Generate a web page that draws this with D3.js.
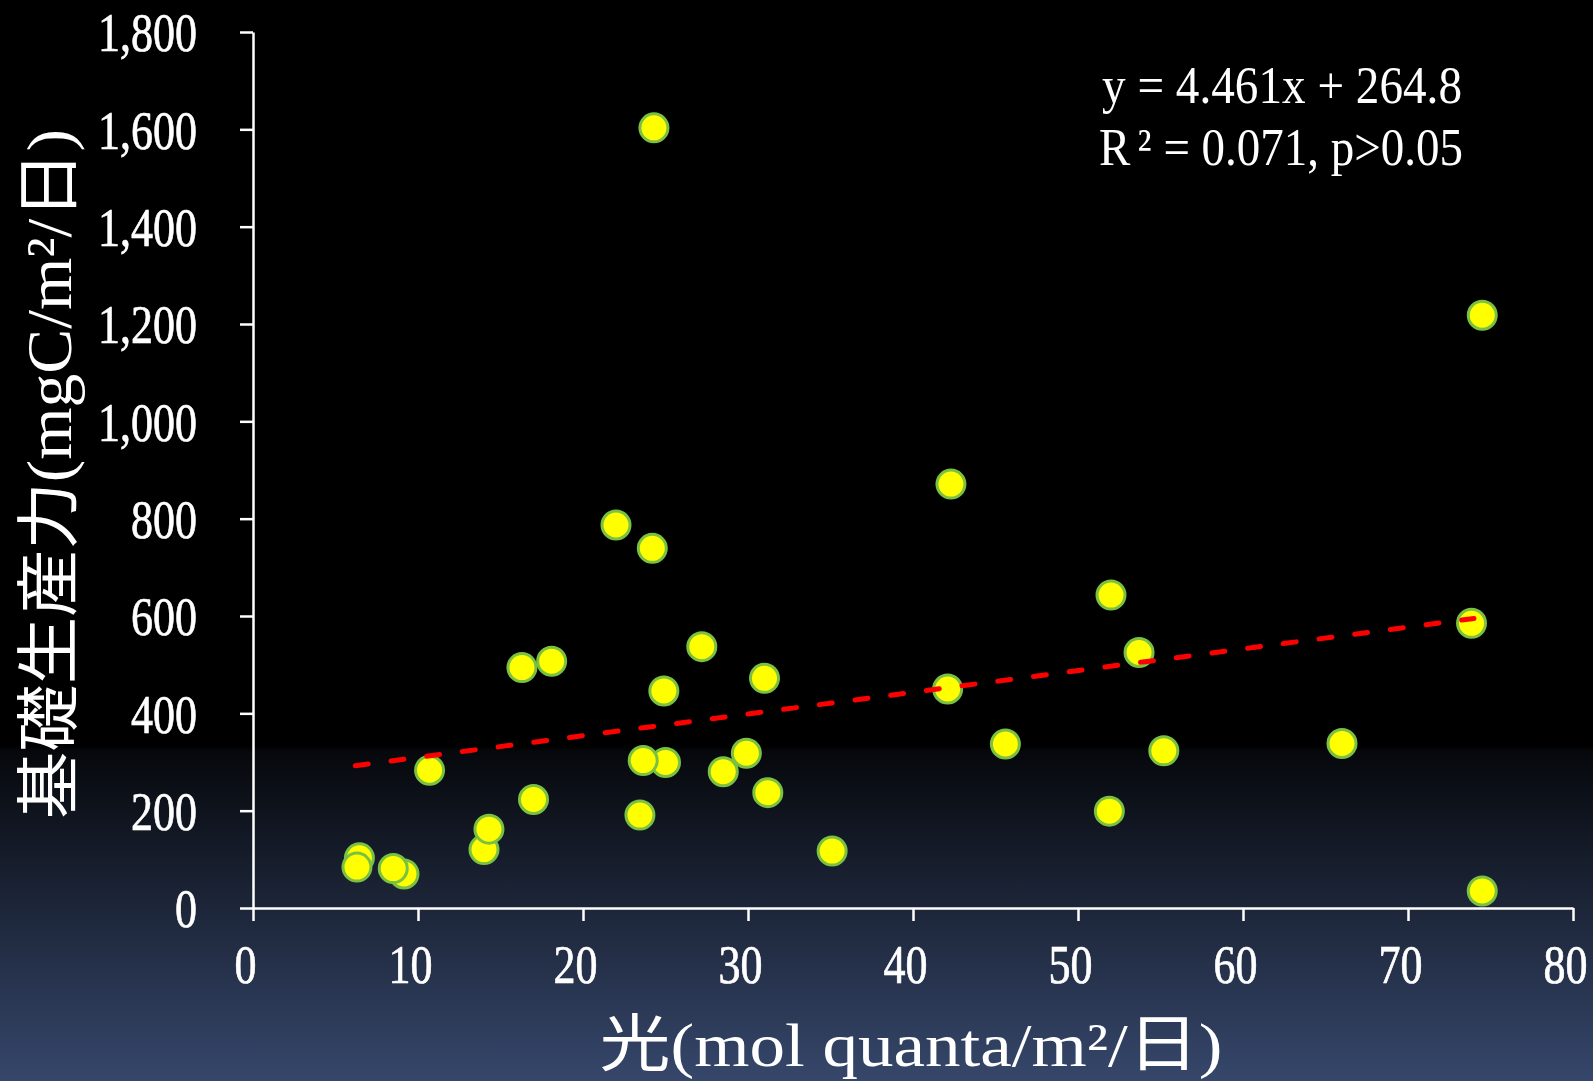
<!DOCTYPE html>
<html>
<head>
<meta charset="utf-8">
<script src="https://cdn.jsdelivr.net/npm/d3@7"></script>
<style>
  html, body { margin: 0; padding: 0; background: #000; }
  svg { display: block; }
</style>
</head>
<body>
<div id="chart"></div>
<script>
// light (mol quanta/m2/day) vs basal production (mgC/m2/day)
const lightX = [24.3, 74.5, 42.3, 22.0, 24.2, 52.0, 73.85, 53.7, 27.2, 18.1, 16.3, 31.0, 24.9, 42.1,
  45.6, 66.0, 55.2, 28.5, 29.9, 25.0, 23.65, 10.7, 31.2, 17.0, 23.45, 51.9, 14.0, 14.3, 35.1,
  6.45, 6.3, 9.15, 8.5, 74.5];
const production = [1603, 1218, 871, 787, 739, 643, 585, 525, 537, 507, 494, 472, 446, 450,
  337, 338, 323, 280, 318, 299, 303, 283, 237, 223, 191, 199, 120, 162, 117,
  103, 84, 70, 81, 35];

const xTicks = [0, 10, 20, 30, 40, 50, 60, 70, 80];
const yTicks = [0, 200, 400, 600, 800, 1000, 1200, 1400, 1600, 1800];

// regression from the chart
const slope = 4.461;
const intercept = 264.8;
const trendRange = [6.2, 74.0];
const equationLines = ["y = 4.461x + 264.8", "R", "²", " = 0.071, p>0.05"];

const xTitle = "光(mol quanta/m²/日)";
const yTitle = "基礎生産力(mgC/m²/日)";

const W = 1593, H = 1081;
const plot = { left: 253, right: 1573, top: 32, bottom: 908 };
const numFont = "'Liberation Serif', 'Times New Roman', serif";
const titleFont = "'Liberation Serif', 'Noto Sans CJK JP', serif";
const squeeze = 0.8;

const svg = d3.select("#chart").append("svg")
  .attr("width", W)
  .attr("height", H);

// background gradient
const defs = svg.append("defs");
const grad = defs.append("linearGradient")
  .attr("id", "bg")
  .attr("x1", 0).attr("y1", 0).attr("x2", 0).attr("y2", 1);
grad.append("stop").attr("offset", "0%").attr("stop-color", "#000");
grad.append("stop").attr("offset", "69%").attr("stop-color", "#000");
grad.append("stop").attr("offset", "69.5%").attr("stop-color", "#06080c");
grad.append("stop").attr("offset", "100%").attr("stop-color", "#36476b");

svg.append("rect")
  .attr("width", W)
  .attr("height", H)
  .attr("fill", "url(#bg)");

const x = d3.scaleLinear().domain([0, 80]).range([plot.left, plot.right]);
const y = d3.scaleLinear().domain([0, 1800]).range([plot.bottom, plot.top]);

// x axis
const xAxis = svg.append("g")
  .attr("transform", `translate(0,${plot.bottom})`)
  .call(d3.axisBottom(x).tickValues(xTicks).tickSize(13).tickSizeOuter(0).tickFormat(d3.format("d")));

// y axis
const yAxis = svg.append("g")
  .attr("transform", `translate(${plot.left},0)`)
  .call(d3.axisLeft(y).tickValues(yTicks).tickSize(13).tickSizeOuter(0).tickFormat(d3.format(",")));

[xAxis, yAxis].forEach(a => {
  a.select(".domain").attr("stroke", "#fff").attr("stroke-width", 2.5);
  a.selectAll(".tick line").attr("stroke", "#fff").attr("stroke-width", 2.5);
  a.selectAll(".tick text")
    .attr("fill", "#fff")
    .attr("stroke", "#fff")
    .attr("stroke-width", 0.7)
    .attr("font-family", numFont)
    .attr("font-size", 55);
});

xAxis.selectAll(".tick text")
  .attr("y", 75)
  .attr("dy", 0)
  .attr("x", -8 / squeeze)
  .attr("transform", `scale(${squeeze},1)`);

yAxis.selectAll(".tick text")
  .attr("x", -56 / squeeze)
  .attr("dy", "0.34em")
  .attr("transform", `scale(${squeeze},1)`);

// points
svg.append("g")
  .selectAll("circle")
  .data(lightX.map((v, i) => ({ x: v, y: production[i] })))
  .join("circle")
  .attr("cx", d => x(d.x))
  .attr("cy", d => y(d.y))
  .attr("r", 14)
  .attr("fill", "#ffff00")
  .attr("stroke", "#7ac143")
  .attr("stroke-width", 3);

// trend line
const line = d3.line()
  .x(d => x(d))
  .y(d => y(slope * d + intercept));

svg.append("path")
  .datum(trendRange)
  .attr("d", line)
  .attr("fill", "none")
  .attr("stroke", "#ff0000")
  .attr("stroke-width", 5)
  .attr("stroke-linecap", "round")
  .attr("stroke-dasharray", "13 23");

// regression text
svg.append("text")
  .attr("x", 1282)
  .attr("y", 103)
  .attr("text-anchor", "middle")
  .attr("fill", "#fff")
  .attr("font-family", numFont)
  .attr("font-size", 52)
  .attr("textLength", 360)
  .attr("lengthAdjust", "spacingAndGlyphs")
  .text(equationLines[0]);

const r2 = svg.append("text")
  .attr("x", 1281)
  .attr("y", 165)
  .attr("text-anchor", "middle")
  .attr("fill", "#fff")
  .attr("font-family", numFont)
  .attr("font-size", 52)
  .attr("textLength", 364)
  .attr("lengthAdjust", "spacingAndGlyphs");
r2.append("tspan").text(equationLines[1]);
r2.append("tspan").attr("dx", 8).text(equationLines[2]);
r2.append("tspan").text(equationLines[3]);

// axis titles
svg.append("text")
  .attr("x", 911)
  .attr("y", 1066)
  .attr("text-anchor", "middle")
  .attr("fill", "#fff")
  .attr("font-family", titleFont)
  .attr("font-size", 62)
  .attr("textLength", 623)
  .attr("lengthAdjust", "spacingAndGlyphs")
  .text(xTitle);

svg.append("text")
  .attr("transform", "translate(71,474) rotate(-90)")
  .attr("text-anchor", "middle")
  .attr("fill", "#fff")
  .attr("font-family", titleFont)
  .attr("font-size", 64)
  .attr("textLength", 690)
  .attr("lengthAdjust", "spacingAndGlyphs")
  .text(yTitle);
</script>
</body>
</html>
